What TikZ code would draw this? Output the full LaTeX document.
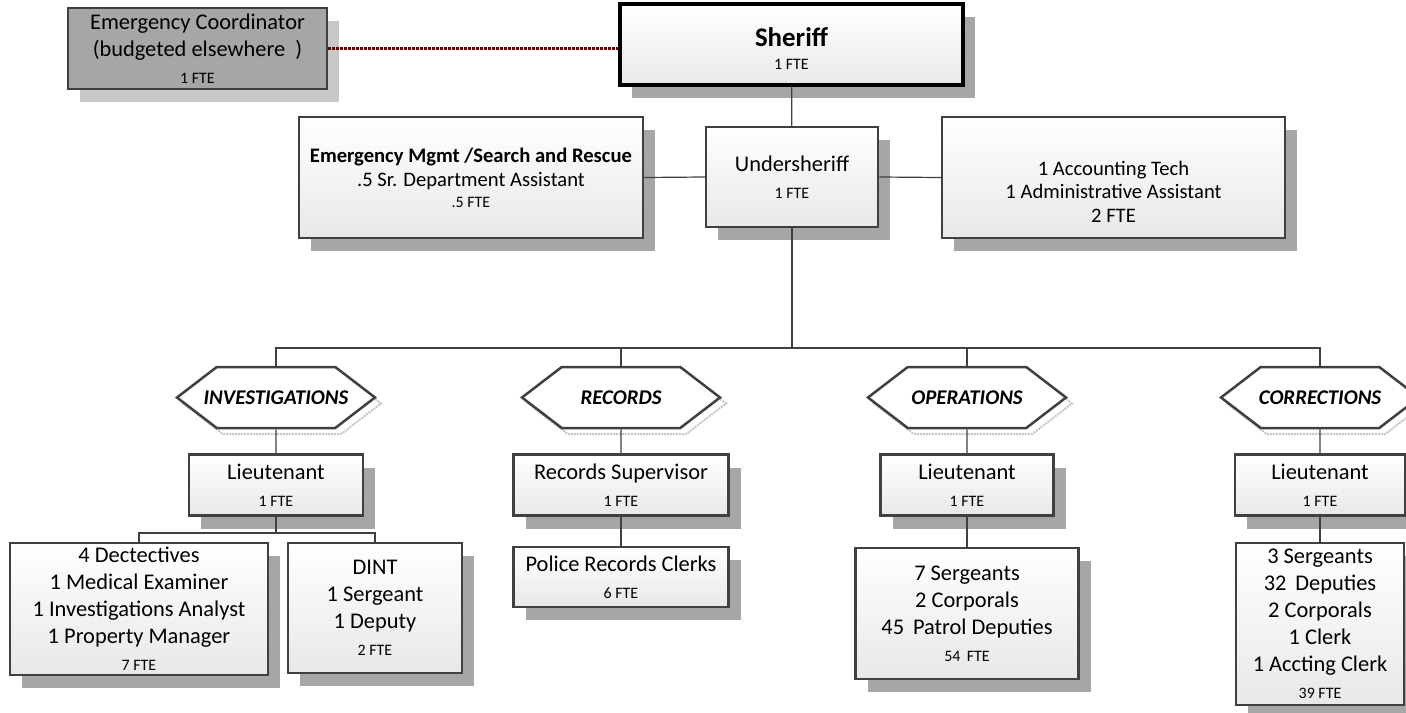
\documentclass[tikz,border=0pt]{standalone}
\usepackage{fontspec}
\setmainfont{Carlito}
\usetikzlibrary{positioning,shapes.symbols,shadows}

\newcommand\fte[1]{{\fontsize{16}{18}\selectfont #1}}

\begin{document}
\begin{tikzpicture}[
    x=1bp, y=-1bp,
    font=\fontsize{22.5}{27}\selectfont,
    box/.style={draw=black!75, line width=2.5bp, top color=white, bottom color=black!9, align=center, inner sep=0pt, drop shadow={shadow xshift=12bp, shadow yshift=-13bp, fill=black!35, opacity=1}},
    chief/.style={box, draw=black, line width=3.5bp},
    outside/.style={box, top color=black!35, bottom color=black!35, drop shadow={shadow xshift=12bp, shadow yshift=-13bp, fill=black!22, opacity=1}},
    unit/.style={shape=signal, signal to=west and east, signal pointer angle=75, draw=black!75, line width=2.5bp, fill=white, minimum width=198bp, minimum height=61bp, inner xsep=-25bp, inner ysep=0pt, font=\fontsize{21}{24}\selectfont\bfseries\itshape, general shadow={shadow xshift=6bp, shadow yshift=-6bp, draw=black!22, densely dotted, line width=2bp, fill=none}},
    link/.style={draw=black!75, line width=1.2bp},
    dotlink/.style={draw=red!40!black, line width=3bp, dash pattern=on 2.4bp off 1.6bp}
]
    \path[use as bounding box, fill=white] (0,0) rectangle (1406,712);

    % top level
    \node[outside, minimum width=259bp, minimum height=81bp] (coord) at (197.5,48.5) {Emergency Coordinator\\(budgeted elsewhere~~)\\\fte{1 FTE}};
    \node[chief, minimum width=343bp, minimum height=81bp, font=\fontsize{16}{23}\selectfont] (sheriff) at (791.5,44.5) {\mbox{}\\[4bp]{\fontsize{27}{30}\selectfont\bfseries Sheriff}\\1 FTE};
    \node[box, minimum width=172bp, minimum height=100bp] (usheriff) at (792,177) {Undersheriff\\\fte{1 FTE}};
    \node[box, minimum width=344bp, minimum height=121bp, font=\fontsize{20.7}{24}\selectfont] (rescue) at (471,177.5) {\textbf{Emergency Mgmt /Search and Rescue}\\.5 Sr. Department Assistant\\[-3bp]\fte{.5 FTE}};
    \node[box, minimum width=343bp, minimum height=121bp, font=\fontsize{20.7}{24}\selectfont] (admin) at (1113.5,177.5) {\mbox{}\\[19bp]1 Accounting Tech\\1 Administrative Assistant\\2 FTE};

    % divisions
    \node[unit] (hexinv) at (276,397.5) {INVESTIGATIONS};
    \node[unit] (hexrec) at (621,397.5) {RECORDS};
    \node[unit] (hexops) at (967,397.5) {OPERATIONS};
    \node[unit] (hexcorr) at (1320,397.5) {CORRECTIONS};

    \node[box, minimum width=174bp, minimum height=61bp, below=24bp of hexinv] (ltinv) {Lieutenant\\\fte{1 FTE}};
    \node[box, minimum width=215bp, minimum height=61bp, below=24bp of hexrec] (ltrec) {Records Supervisor\\\fte{1 FTE}};
    \node[box, minimum width=173bp, minimum height=61bp, below=24bp of hexops] (ltops) {Lieutenant\\\fte{1 FTE}};
    \node[box, minimum width=170bp, minimum height=61bp, below=24bp of hexcorr] (ltcorr) {Lieutenant\\\fte{1 FTE}};

    \node[box, minimum width=258bp, minimum height=132bp] (detect) at (139,609) {4 Dectectives\\1 Medical Examiner\\1 Investigations Analyst\\1 Property Manager\\\fte{7 FTE}};
    \node[box, minimum width=174bp, minimum height=130bp] (dint) at (375,608) {DINT\\1 Sergeant\\1 Deputy\\\fte{2 FTE}};
    \node[box, minimum width=215bp, minimum height=60bp, below=29bp of ltrec] (clerks) {Police Records Clerks\\\fte{6 FTE}};
    \node[box, minimum width=223bp, minimum height=131bp, below=30bp of ltops] (patrol) {7 Sergeants\\2 Corporals\\45\ \,Patrol Deputies\\\fte{54\ \,FTE}};
    \node[box, minimum width=168bp, minimum height=162bp, below=25bp of ltcorr] (jail) {3 Sergeants\\32\ \,Deputies\\2 Corporals\\1 Clerk\\1 Accting Clerk\\\fte{39 FTE}};

    \coordinate (bus) at (792,348);
    \coordinate (invbus) at (276,533);

    \draw[dotlink] (coord.east) -- (coord.east -| sheriff.west);
    \draw[link] (sheriff) -- (usheriff);
    \draw[link] (rescue.east) -- (usheriff.west);
    \draw[link] (usheriff.east) -- (admin.west);
    \draw[link] (usheriff) -- (bus);
    \draw[link] (hexinv.north) |- (bus) -| (hexcorr.north);
    \draw[link] (hexrec.north) -- (hexrec.north |- bus);
    \draw[link] (hexops.north) -- (hexops.north |- bus);
    \draw[link] (hexinv) -- (ltinv);
    \draw[link] (hexrec) -- (ltrec);
    \draw[link] (hexops) -- (ltops);
    \draw[link] (hexcorr) -- (ltcorr);
    \draw[link] (ltinv) -- (invbus);
    \draw[link] (detect.north) |- (invbus) -| (dint.north);
    \draw[link] (ltrec) -- (clerks);
    \draw[link] (ltops) -- (patrol);
    \draw[link] (ltcorr) -- (jail);
\end{tikzpicture}
\end{document}
